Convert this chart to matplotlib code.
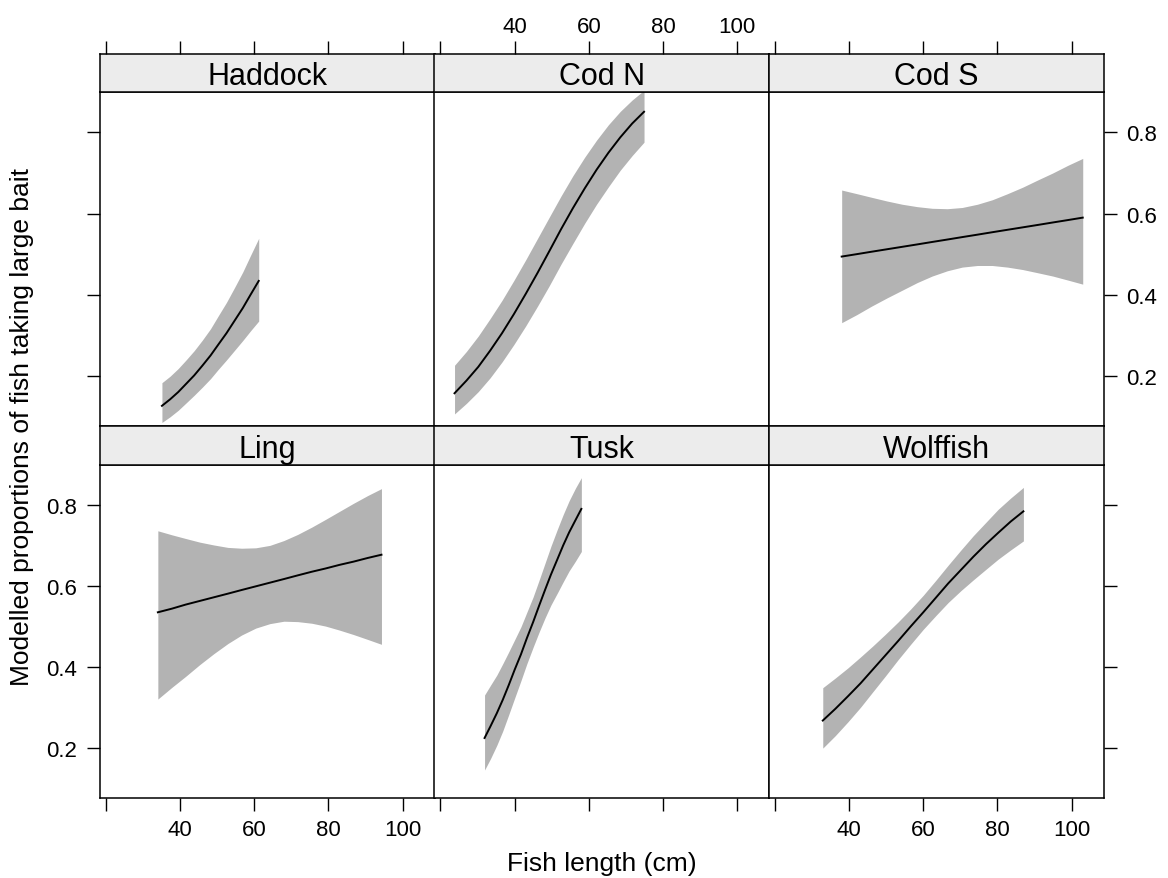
import matplotlib

matplotlib.use("Agg")
import matplotlib.pyplot as plt

plt.rcParams["font.family"] = ["Liberation Sans", "DejaVu Sans"]

# panel order: top row left->right, then bottom row
SPECIES = ["Haddock", "Cod N", "Cod S", "Ling", "Tusk", "Wolffish"]

haddock_len = [35.1, 37.3, 39.5, 41.6, 43.8, 46.0, 48.2, 50.3, 52.5, 54.7, 56.9, 59.0, 61.2]
haddock_fit = [0.126, 0.142, 0.160, 0.180, 0.201, 0.225, 0.250, 0.277, 0.305, 0.336, 0.367, 0.400, 0.434]
haddock_hi = [0.183, 0.199, 0.218, 0.239, 0.262, 0.288, 0.316, 0.348, 0.381, 0.418, 0.456, 0.497, 0.539]
haddock_lo = [0.085, 0.099, 0.115, 0.133, 0.152, 0.172, 0.193, 0.216, 0.239, 0.263, 0.287, 0.311, 0.335]

codn_len = [23.8, 27.0, 30.2, 33.4, 36.6, 39.8, 43.0, 46.2, 49.4,
            52.5, 55.7, 58.9, 62.1, 65.3, 68.5, 71.7, 74.9]
codn_fit = [0.157, 0.188, 0.222, 0.262, 0.305, 0.352, 0.402, 0.454, 0.508,
            0.561, 0.613, 0.662, 0.708, 0.750, 0.788, 0.822, 0.851]
codn_hi = [0.226, 0.260, 0.298, 0.341, 0.386, 0.435, 0.486, 0.539, 0.592,
           0.643, 0.693, 0.739, 0.781, 0.819, 0.852, 0.880, 0.904]
codn_lo = [0.106, 0.132, 0.161, 0.195, 0.234, 0.277, 0.323, 0.372, 0.423,
           0.475, 0.526, 0.576, 0.623, 0.666, 0.707, 0.743, 0.776]

cods_len = [38.0, 42.1, 46.1, 50.2, 54.3, 58.4, 62.4, 66.5, 70.5,
            74.6, 78.6, 82.7, 86.8, 90.9, 94.9, 99.0, 103.0]
cods_fit = [0.494, 0.500, 0.506, 0.512, 0.518, 0.524, 0.530, 0.536, 0.542,
            0.548, 0.554, 0.560, 0.566, 0.572, 0.578, 0.584, 0.590]
cods_hi = [0.658, 0.649, 0.640, 0.631, 0.623, 0.617, 0.613, 0.612, 0.615,
           0.623, 0.634, 0.649, 0.665, 0.683, 0.700, 0.719, 0.736]
cods_lo = [0.331, 0.351, 0.372, 0.392, 0.411, 0.430, 0.446, 0.459, 0.468,
           0.472, 0.472, 0.468, 0.462, 0.454, 0.446, 0.436, 0.426]

ling_len = [34.0, 37.8, 41.5, 45.3, 49.1, 52.9, 56.6, 60.4, 64.2,
            68.0, 71.7, 75.5, 79.2, 83.0, 86.8, 90.6, 94.3]
ling_fit = [0.535, 0.544, 0.554, 0.563, 0.572, 0.581, 0.590, 0.599, 0.608,
            0.617, 0.626, 0.635, 0.643, 0.652, 0.660, 0.669, 0.677]
ling_hi = [0.736, 0.726, 0.717, 0.708, 0.701, 0.695, 0.693, 0.694, 0.700,
           0.712, 0.727, 0.745, 0.764, 0.784, 0.804, 0.823, 0.840]
ling_lo = [0.321, 0.350, 0.377, 0.406, 0.433, 0.458, 0.479, 0.496, 0.507,
           0.513, 0.512, 0.508, 0.501, 0.491, 0.480, 0.468, 0.456]

tusk_len = [31.9, 33.5, 35.2, 36.8, 38.4, 40.0, 41.7, 43.3, 45.0,
            46.6, 48.2, 49.8, 51.5, 53.1, 54.7, 56.4, 58.0]
tusk_fit = [0.225, 0.254, 0.286, 0.319, 0.355, 0.393, 0.431, 0.471, 0.511,
            0.551, 0.590, 0.628, 0.665, 0.700, 0.732, 0.762, 0.790]
tusk_hi = [0.331, 0.355, 0.380, 0.408, 0.437, 0.467, 0.499, 0.535, 0.573,
           0.614, 0.656, 0.698, 0.739, 0.776, 0.810, 0.841, 0.867]
tusk_lo = [0.146, 0.174, 0.207, 0.242, 0.282, 0.323, 0.366, 0.408, 0.449,
           0.486, 0.521, 0.553, 0.582, 0.610, 0.637, 0.661, 0.685]

wolf_len = [32.9, 36.3, 39.7, 43.1, 46.4, 49.8, 53.2, 56.6, 60.0,
            63.4, 66.7, 70.1, 73.5, 76.9, 80.2, 83.6, 87.0]
wolf_fit = [0.268, 0.297, 0.328, 0.360, 0.394, 0.429, 0.464, 0.500, 0.535,
            0.571, 0.606, 0.639, 0.672, 0.703, 0.731, 0.759, 0.784]
wolf_hi = [0.349, 0.373, 0.398, 0.425, 0.452, 0.481, 0.511, 0.543, 0.577,
           0.614, 0.651, 0.688, 0.724, 0.757, 0.789, 0.817, 0.843]
wolf_lo = [0.200, 0.231, 0.265, 0.301, 0.339, 0.378, 0.418, 0.456, 0.493,
           0.527, 0.559, 0.588, 0.615, 0.641, 0.666, 0.689, 0.711]

X_TICKS = [20, 40, 60, 80, 100]
X_TICK_LABELS = ["", "40", "60", "80", "100"]
Y_TICKS = [0.2, 0.4, 0.6, 0.8]
Y_TICK_LABELS = ["0.2", "0.4", "0.6", "0.8"]

PANELS = [
    (haddock_len, haddock_fit, haddock_lo, haddock_hi),
    (codn_len, codn_fit, codn_lo, codn_hi),
    (cods_len, cods_fit, cods_lo, cods_hi),
    (ling_len, ling_fit, ling_lo, ling_hi),
    (tusk_len, tusk_fit, tusk_lo, tusk_hi),
    (wolf_len, wolf_fit, wolf_lo, wolf_hi),
]

W, H = 1168, 879
COL_EDGES = [100, 434.5, 769, 1103.5]
ROWS = [  # strip top, strip bottom / panel top, panel bottom
    (55, 93.3, 426.7),
    (426.7, 465.7, 799),
]
X_LIM = (18.4, 108.6)
Y_LIM = (0.077, 0.899)
BAND = "#b3b3b3"
STRIP = "#ececec"
TICK_LEN = 9.4


def px_box(left, top, right, bottom):
    return [left / W, 1 - bottom / H, (right - left) / W, (bottom - top) / H]


fig = plt.figure(figsize=(W / 100, H / 100), dpi=100)

for index, name in enumerate(SPECIES):
    row, col = divmod(index, 3)
    strip_top, panel_top, panel_bottom = ROWS[row]
    left, right = COL_EDGES[col], COL_EDGES[col + 1]
    ax = fig.add_axes(px_box(left, panel_top, right, panel_bottom))
    sax = fig.add_axes(px_box(left, strip_top, right, panel_top))

    length, fit, lo, hi = PANELS[index]
    ax.fill_between(length, lo, hi, color=BAND, linewidth=0)
    ax.plot(length, fit, color="black", linewidth=1.4)

    ax.set_xlim(*X_LIM)
    ax.set_ylim(*Y_LIM)
    ax.set_xticks(X_TICKS, X_TICK_LABELS)
    ax.set_yticks(Y_TICKS, Y_TICK_LABELS)
    ax.tick_params(direction="out", length=TICK_LEN, width=1.0, labelsize=16)
    ax.tick_params(axis="x", pad=6)
    ax.tick_params(axis="y", pad=7)
    ax.tick_params(
        top=False, labeltop=False,
        bottom=(row == 1), labelbottom=(row == 1 and col != 1),
        left=(col == 0), labelleft=(col == 0 and row == 1),
        right=(col == 2), labelright=(col == 2 and row == 0),
    )
    for spine in ax.spines.values():
        spine.set_linewidth(1.1)

    sax.set_facecolor(STRIP)
    sax.set_xlim(*X_LIM)
    sax.set_xticks(X_TICKS, X_TICK_LABELS)
    sax.set_yticks([])
    sax.tick_params(direction="out", length=TICK_LEN, width=1.0, labelsize=16, pad=3)
    sax.tick_params(
        bottom=False, labelbottom=False,
        top=(row == 0), labeltop=(row == 0 and col == 1),
    )
    for spine in sax.spines.values():
        spine.set_linewidth(1.1)
    sax.text(0.5, 0.21, name, transform=sax.transAxes, ha="center",
             va="baseline", fontsize=22)

fig.text(602 / W, (H - 871.5) / H, "Fish length (cm)", ha="center",
         va="baseline", fontsize=19)
fig.text(22 / W, 0.514, "Modelled proportions of fish taking large bait",
         rotation=90, ha="center", va="center", fontsize=19)

fig.savefig("out.png", dpi=100)
